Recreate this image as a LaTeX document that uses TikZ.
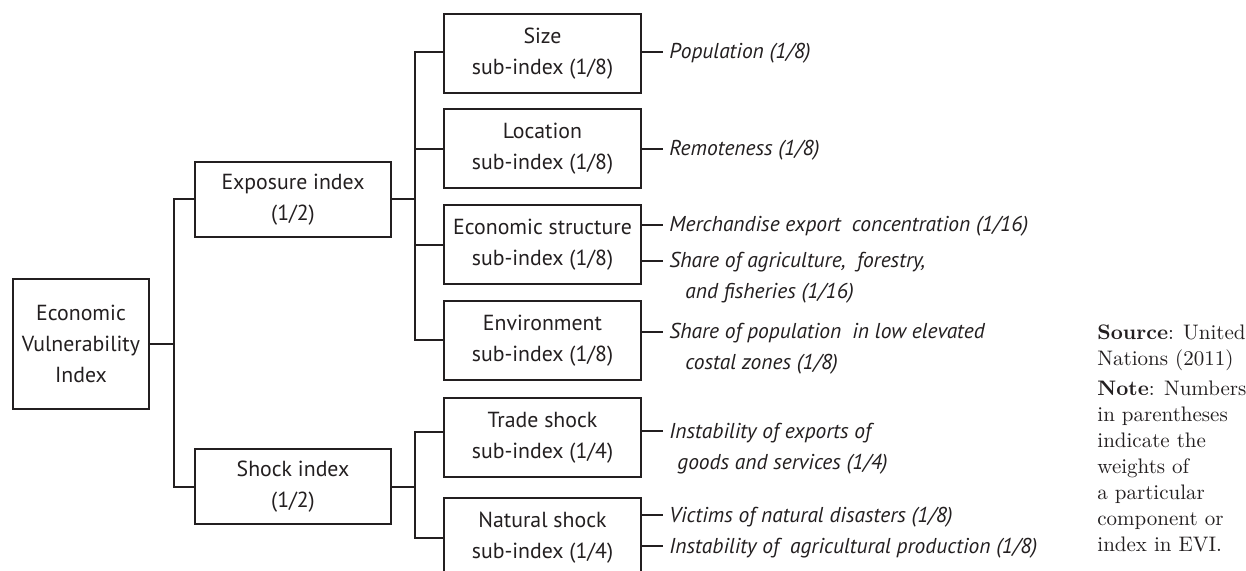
\documentclass[tikz,border=0pt]{standalone}
\usepackage{fontspec}
\newfontfamily\boxfont{PT Sans}
\definecolor{ink}{HTML}{231F20}
\tikzset{
  box/.style={draw=ink, line width=1pt, inner sep=0pt, align=center, text=ink,
    font=\boxfont\fontsize{10.9}{15.5}\selectfont},
  sub/.style={box, minimum width=98.5pt, minimum height=39.5pt},
  item/.style={anchor=west, inner xsep=3pt, inner ysep=0pt, text height=7pt, text depth=0pt,
    text=ink, font=\boxfont\itshape\fontsize{10.75}{15}\selectfont},
  link/.style={draw=ink, line width=1pt},
  remark/.style={anchor=north west, inner sep=0pt, align=left, text=ink}
}
\begin{document}
\begin{tikzpicture}[x=0.5pt,y=-0.5pt]
\clip (0,0) rectangle (1246,571);
% boxes
\node[box, minimum width=68pt, minimum height=65pt] (evi) at (81,344) {Economic\\Vulnerability\\Index};
\node[box, minimum width=98pt, minimum height=37.5pt] (exp) at (293,199.5) {Exposure index\\(1/2)};
\node[box, minimum width=98pt, minimum height=37.5pt] (shock) at (293,486.5) {Shock index\\(1/2)};
\node[sub] (size) at (542.5,54) {Size\\sub-index (1/8)};
\node[sub] (loc) at (542.5,149) {Location\\sub-index (1/8)};
\node[sub] (econ) at (542.5,245) {Economic structure\\sub-index (1/8)};
\node[sub] (env) at (542.5,340.5) {Environment\\sub-index (1/8)};
\node[sub] (trade) at (542.5,437.5) {Trade shock\\sub-index (1/4)};
\node[sub] (nat) at (542.5,537.5) {Natural shock\\sub-index (1/4)};
% items
\node[item] (i1) at (663,52) {Population (1/8)};
\node[item] (i2) at (663,149) {Remoteness (1/8)};
\node[item] (i3) at (663,225) {Merchandise export\hspace{0.25em} concentration (1/16)};
\node[item] (i4) at (663,261) {Share of agriculture,\hspace{0.25em} forestry,};
\node[item] (i4b) at (679,292) {and fisheries (1/16)};
\node[item] (i5) at (663,332) {Share of population\hspace{0.25em} in low elevated};
\node[item] (i5b) at (679,363) {costal zones (1/8)};
\node[item] (i6) at (663,431) {Instability of exports of};
\node[item] (i6b) at (671,462) {goods and services (1/4)};
\node[item] (i7) at (663,515) {Victims of natural disasters (1/8)};
\node[item] (i8) at (663,546) {Instability of\hspace{0.25em} agricultural production (1/8)};
% remarks
\node[remark, font=\fontsize{10.5}{13}\selectfont] (src) at (1097,324) {\textbf{Source}: United\\Nations (2011)};
\node[remark, font=\fontsize{10.5}{13}\selectfont] (note) at (1097,381) {\textbf{Note}: Numbers\\in parentheses\\indicate the\\weights of\\a particular\\component or\\index in EVI.};
% buses
\coordinate (b1) at (174,0);
\coordinate (b2) at (415,0);
\coordinate (szw) at ([yshift=1pt]size.west);
\coordinate (trw) at ([yshift=3pt]trade.west);
\draw[link] (evi.east) -- (evi.east -| b1);
\draw[link] (exp.west) -- (exp.west -| b1) -- (shock.west -| b1) -- (shock.west);
\draw[link] (exp.east) -- (exp.east -| b2);
\draw[link] (szw) -- (szw -| b2) |- (env.west);
\draw[link] (loc.west) -- (loc.west -| b2);
\draw[link] (econ.west) -- (econ.west -| b2);
\draw[link] (shock.east) -- (shock.east -| b2);
\draw[link] (trw) -- (trw -| b2) |- (nat.west);
% leaf connectors
\draw[link] (size.east |- i1.west) -- (i1.west);
\draw[link] (loc.east |- i2.west) -- (i2.west);
\draw[link] (econ.east |- i3.west) -- (i3.west);
\draw[link] (econ.east |- i4.west) -- (i4.west);
\draw[link] (env.east |- i5.west) -- (i5.west);
\draw[link] (trade.east |- i6.west) -- (i6.west);
\draw[link] (nat.east |- i7.west) -- (i7.west);
\draw[link] (nat.east |- i8.west) -- (i8.west);
\end{tikzpicture}
\end{document}
